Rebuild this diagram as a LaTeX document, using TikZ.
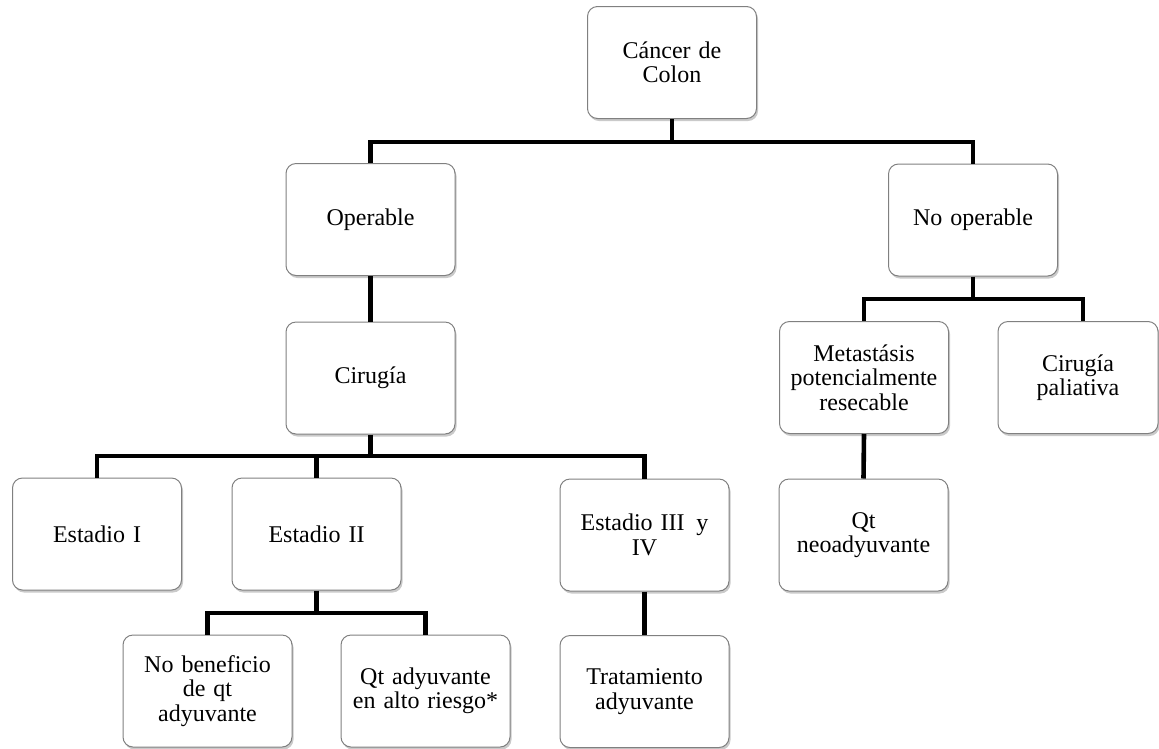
\documentclass[tikz,border=0pt]{standalone}
\usepackage{fontspec}
\setmainfont{Liberation Serif}
\usetikzlibrary{shadows}
\begin{document}
\begin{tikzpicture}[x=1pt,y=-1pt,
  box/.style={draw=black!50, line width=1pt, fill=white, rounded corners=10pt,
    minimum width=169pt, minimum height=112pt, inner sep=0pt, text width=165pt, align=center,
    font=\fontsize{24}{24.5}\selectfont,
    drop shadow={shadow xshift=1.5pt, shadow yshift=-2.5pt, opacity=0.35, fill=black!60}},
  conn/.style={line width=4.6pt, line join=miter, line cap=butt}]
\useasboundingbox (0,0) rectangle (1159,748);
\node[box] (cancer) at (672,62.5) {Cáncer de\\Colon};
\node[box] (oper) at (370.5,219.5) {Operable};
\node[box] (noop) at (973,220) {No operable};
\node[box] (cir) at (370.5,378) {Cirugía};
\node[box] (meta) at (864,377.5) {Metastásis\\potencialmente\\resecable};
\node[box, minimum width=160pt, text width=156pt] (pal) at (1078,377.5) {Cirugía\\paliativa};
\node[box] (e1) at (97,534) {Estadio I};
\node[box] (e2) at (316.5,534) {Estadio II};
\node[box] (e3) at (644.5,535) {Estadio III\hspace{0.15em} y\\IV};
\node[box] (qtn) at (863.5,535) {Qt\\neoadyuvante};
\node[box] (nob) at (207.5,691) {No beneficio\\de qt\\adyuvante};
\node[box] (qta) at (425.5,691) {Qt adyuvante\\en alto riesgo*};
\node[box] (trat) at (644.5,691.5) {Tratamiento\\adyuvante};
% connectors
\coordinate (b1) at (672,142);
\draw[conn] (cancer.south) -- (b1);
\draw[conn] (oper.north) |- (b1) -| (noop.north);
\draw[conn] (oper.south) -- (cir.north);
\coordinate (b2) at (973,299);
\draw[conn] (noop.south) -- (b2);
\draw[conn] (meta.north) |- (b2) -| ([xshift=5pt]pal.north);
\draw[conn] (meta.south) -- (qtn.north);
\coordinate (b3) at (370.5,456);
\draw[conn] (cir.south) -- (b3);
\draw[conn] (e1.north) |- (b3) -| (e3.north);
\draw[conn] (e2.north) -- (e2.north |- b3);
\coordinate (b4) at (316.5,613);
\draw[conn] (e2.south) -- (b4);
\draw[conn] (nob.north) |- (b4) -| (qta.north);
\draw[conn] (e3.south) -- (trat.north);
\end{tikzpicture}
\end{document}
